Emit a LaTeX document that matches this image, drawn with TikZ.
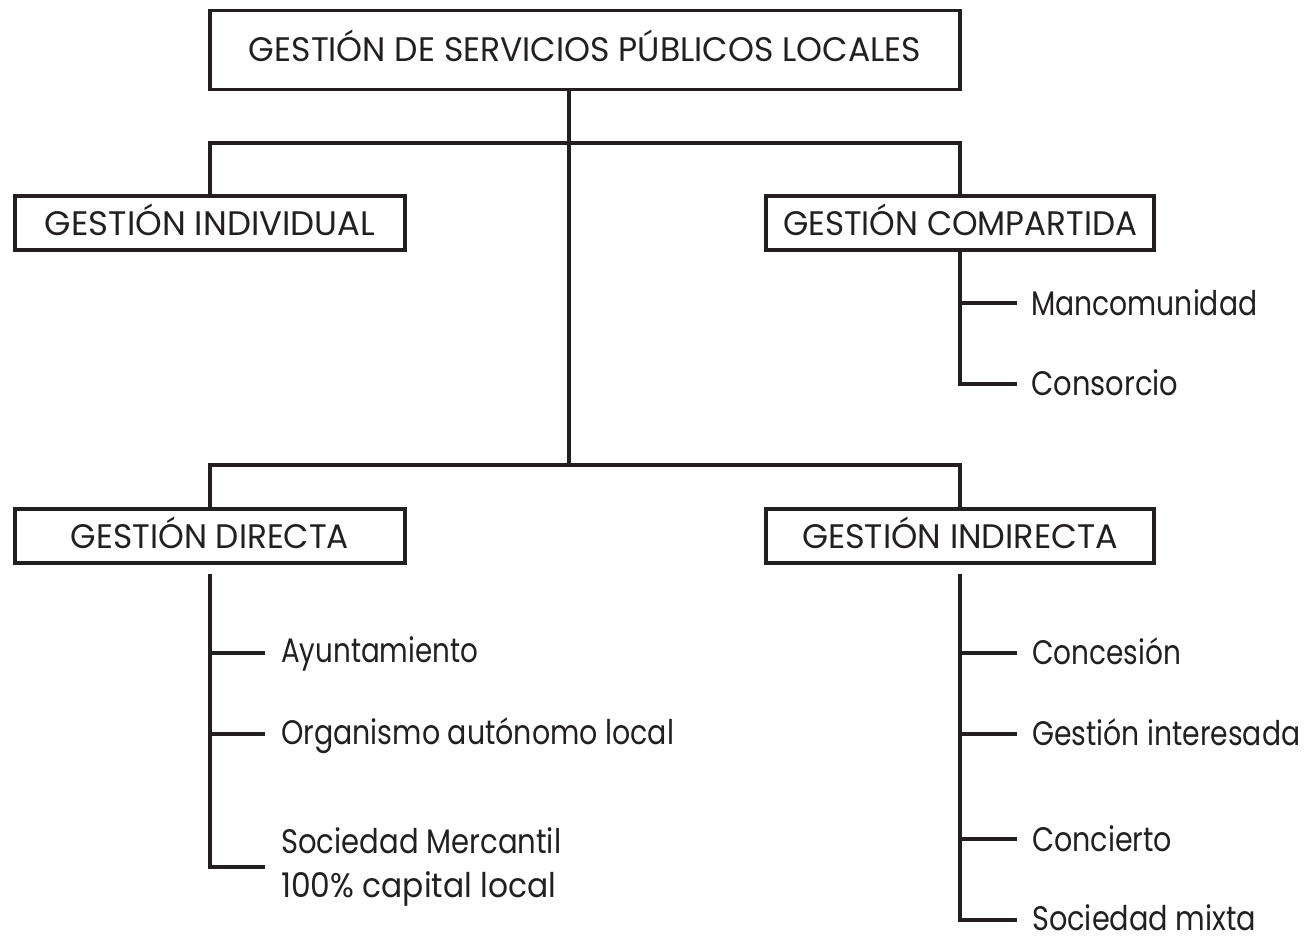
\documentclass[tikz,border=0pt]{standalone}
\usepackage{fontspec}
\usepackage{graphicx}
\setmainfont{Poppins}
\newcommand{\tw}[2]{\resizebox{#1pt}{\height}{#2}}
\definecolor{ink}{HTML}{231F20}
\tikzset{
  ln/.style={draw=ink, line width=3.2pt, line join=miter},
  boxnode/.style={draw=ink, line width=3.2pt, inner sep=0pt, text=ink,
    font=\fontsize{34}{40}\selectfont, text height=24pt, text depth=0pt, align=center},
  leaf/.style={anchor=base west, inner sep=0pt, text=ink, font=\fontsize{34}{40}\selectfont}
}
\begin{document}
\begin{tikzpicture}[x=1pt, y=-1pt]
\useasboundingbox (0,0) rectangle (1305,936);
% boxes
\node[boxnode, minimum width=750pt, minimum height=79pt] (top) at (585,50) {\tw{672}{GESTIÓN DE SERVICIOS PÚBLICOS LOCALES}};
\node[boxnode, minimum width=390pt, minimum height=54pt] (ind) at (210,223) {\tw{330}{GESTIÓN INDIVIDUAL}};
\node[boxnode, minimum width=388pt, minimum height=54pt] (comp) at (960,223) {\tw{354}{GESTIÓN COMPARTIDA}};
\node[boxnode, minimum width=390pt, minimum height=54pt] (dir) at (210,536) {\tw{278}{GESTIÓN DIRECTA}};
\node[boxnode, minimum width=388pt, minimum height=54pt] (indir) at (960,536) {\tw{316}{GESTIÓN INDIRECTA}};
% hub coordinates
\coordinate (t1) at (569,143);
\coordinate (t2) at (569,465);
% leaf end coordinates
\coordinate (manE) at (1017,303);
\coordinate (conE) at (1017,384);
\coordinate (ayuE) at (265,653);
\coordinate (orgE) at (265,734);
\coordinate (smE) at (265,867);
\coordinate (cesE) at (1017,653);
\coordinate (gesE) at (1017,734);
\coordinate (ctoE) at (1017,839);
\coordinate (mixE) at (1017,920);
% leaves
\node[leaf] (man) at (1031,315) {\tw{226}{Mancomunidad}};
\node[leaf] (con) at (1031,395) {\tw{147}{Consorcio}};
\node[leaf] (ayu) at (281,662) {\tw{197}{Ayuntamiento}};
\node[leaf] (org) at (281,744) {\tw{393}{Organismo autónomo local}};
\node[leaf] (smA) at (281,853) {\tw{280}{Sociedad Mercantil}};
\node[leaf] (smB) at (281,897) {\tw{275}{100\% capital local}};
\node[leaf] (ces) at (1032,664) {\tw{149}{Concesión}};
\node[leaf] (ges) at (1032,745) {\tw{268}{Gestión interesada}};
\node[leaf] (cto) at (1032,851) {\tw{140}{Concierto}};
\node[leaf] (mix) at (1032,930) {\tw{224}{Sociedad mixta}};
% connectors
\draw[ln] (top.south -| t1) -- (t2);
\draw[ln] (ind.north) |- (t1) -| (comp.north);
\draw[ln] (dir.north) |- (t2) -| (indir.north);
\draw[ln] (comp.south) |- (conE);
\draw[ln] (manE -| comp.south) -- (manE);
\draw[ln] ([yshift=-9pt]dir.south) |- (smE);
\draw[ln] (ayuE -| dir.south) -- (ayuE);
\draw[ln] (orgE -| dir.south) -- (orgE);
\draw[ln] ([yshift=-9pt]indir.south) |- (mixE);
\draw[ln] (cesE -| indir.south) -- (cesE);
\draw[ln] (gesE -| indir.south) -- (gesE);
\draw[ln] (ctoE -| indir.south) -- (ctoE);
\end{tikzpicture}
\end{document}
